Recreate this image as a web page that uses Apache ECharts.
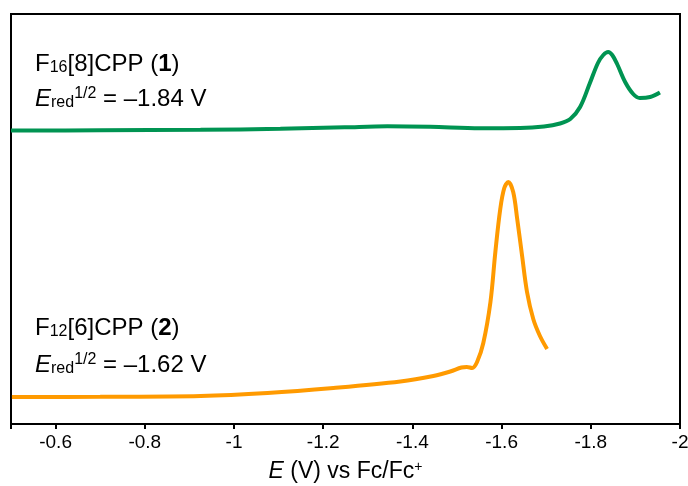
<!DOCTYPE html>
<html>
<head>
<meta charset="utf-8">
<script src="https://cdn.jsdelivr.net/npm/echarts@6/dist/echarts.min.js"></script>
<style>
  html, body { margin: 0; padding: 0; background: #fff; }
  #chart { width: 688px; height: 486px; }
</style>
</head>
<body>
<div id="chart"></div>
<script>
// Potential (V vs Fc/Fc+) and current (arbitrary units)
const greenE = [-0.50, -0.70, -0.925, -1.104, -1.248, -1.344, -1.44, -1.552, -1.642, -1.695, -1.731, -1.754, -1.776, -1.798, -1.816, -1.828, -1.839, -1.848, -1.859, -1.877, -1.895, -1.910, -1.933, -1.955]
const greenI = [29.35, 29.37, 29.42, 29.52, 29.67, 29.77, 29.72, 29.58, 29.6, 29.75, 30.05, 30.5, 31.7, 34.1, 36.1, 36.9, 37.2, 36.9, 36.0, 34.2, 33.0, 32.6, 32.7, 33.15]

const orangeE = [-0.502, -0.70, -0.925, -1.075, -1.223, -1.373, -1.447, -1.485, -1.510, -1.522, -1.534, -1.545, -1.559, -1.575, -1.586, -1.597, -1.606, -1.615, -1.626, -1.635, -1.646, -1.657, -1.671, -1.686, -1.702]
const orangeI = [2.7, 2.72, 2.8, 3.1, 3.6, 4.25, 4.8, 5.25, 5.65, 5.7, 5.6, 6.2, 8.1, 12.2, 17.2, 21.5, 23.6, 24.2, 23.2, 20.5, 16.8, 13.2, 10.5, 8.8, 7.5]

const FONT = 'Liberation Sans, Arial, Helvetica, sans-serif'

const zip = (xs, ys) => xs.map((x, i) => [x, ys[i]])

// rich styles for the compound labels (sub/superscripts)
const makeRich = (L) => ({
  a: { fontSize: 24, fontFamily: FONT, lineHeight: L, fill: '#000' },
  b: { fontSize: 24, fontFamily: FONT, fontWeight: 'bold', lineHeight: L, fill: '#000' },
  i: { fontSize: 24, fontFamily: FONT, fontStyle: 'italic', lineHeight: L, fill: '#000' },
  sub: { fontSize: 16, fontFamily: FONT, lineHeight: L, verticalAlign: 'bottom', height: L - 8, fill: '#000' },
  sup: { fontSize: 16, fontFamily: FONT, lineHeight: L, verticalAlign: 'top', height: L - 10, fill: '#000' }
})

const chart = echarts.init(document.getElementById('chart'))

const option = {
  animation: false,
  grid: {
    left: 11,
    right: 8,
    top: 14,
    bottom: 62,
    outerBoundsMode: 'none',
    show: true,
    borderColor: '#000',
    borderWidth: 2
  },
  xAxis: {
    type: 'value',
    min: -2,
    max: -0.5,
    interval: 0.2,
    inverse: true,
    splitLine: { show: false },
    axisLine: { lineStyle: { color: '#000', width: 2 } },
    axisTick: { length: 5, lineStyle: { color: '#000', width: 2 } },
    axisLabel: {
      color: '#000',
      fontSize: 19,
      fontFamily: FONT,
      margin: 9,
      formatter: (v) => (Math.abs(v + 0.5) < 1e-6 ? '' : String(Math.round(v * 10) / 10))
    },
    name: '{i|E} (V) vs Fc/Fc{sup|+}',
    nameLocation: 'middle',
    nameGap: 36,
    nameTextStyle: {
      color: '#000',
      fontSize: 23,
      fontFamily: FONT,
      rich: {
        i: { fontSize: 23, fontFamily: FONT, fontStyle: 'italic', color: '#000' },
        sup: { fontSize: 14, fontFamily: FONT, color: '#000', verticalAlign: 'top', height: 15 }
      }
    }
  },
  yAxis: {
    type: 'value',
    min: 0,
    max: 41,
    show: false
  },
  graphic: [
    {
      type: 'text',
      left: 35,
      top: 52,
      style: {
        text: '{a|F}{sub|16}{a|[8]CPP (}{b|1}{a|)}\n{i|E}{sub|red}{sup|1/2}{a| = \u20131.84 V}',
        rich: makeRich(35)
      }
    },
    {
      type: 'text',
      left: 35,
      top: 316,
      style: {
        text: '{a|F}{sub|12}{a|[6]CPP (}{b|2}{a|)}\n{i|E}{sub|red}{sup|1/2}{a| = \u20131.62 V}',
        rich: makeRich(37)
      }
    }
  ],
  series: [
    {
      name: 'F16[8]CPP',
      type: 'line',
      data: zip(greenE, greenI),
      smooth: 0.35,
      showSymbol: false,
      lineStyle: { color: '#009452', width: 4 }
    },
    {
      name: 'F12[6]CPP',
      type: 'line',
      data: zip(orangeE, orangeI),
      smooth: 0.35,
      showSymbol: false,
      lineStyle: { color: '#ff9a00', width: 4 }
    }
  ]
}

chart.setOption(option)
</script>
</body>
</html>
